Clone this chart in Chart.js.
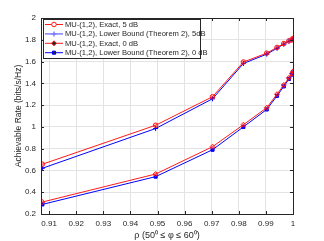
<!DOCTYPE html>
<html>
<head>
<meta charset="utf-8">
<script src="https://cdn.jsdelivr.net/npm/chart.js@4/dist/chart.umd.min.js"></script>
<style>
  html, body { margin: 0; padding: 0; background: #fff; }
  #wrap { width: 324px; height: 241px; }
</style>
</head>
<body>
<div id="wrap"><canvas id="rateChart" width="324" height="241"></canvas></div>
<script>
// rho values (x) shared by all curves
const rho = [0.9075, 0.9493, 0.9703, 0.9817, 0.9903, 0.9941, 0.9966, 0.9985, 0.9996, 1.0];

const exact5 = [0.657, 1.015, 1.277, 1.596, 1.677, 1.73, 1.765, 1.79, 1.80, 1.812];
const lower5 = [0.62, 0.985, 1.258, 1.582, 1.668, 1.722, 1.76, 1.787, 1.798, 1.808];
const exact0 = [0.31, 0.567, 0.818, 1.02, 1.176, 1.30, 1.385, 1.45, 1.49, 1.51];
const lower0 = [0.288, 0.543, 0.79, 1.0, 1.16, 1.285, 1.372, 1.44, 1.48, 1.50];

const xTicks = [0.91, 0.92, 0.93, 0.94, 0.95, 0.96, 0.97, 0.98, 0.99, 1];
const yTicks = [0.2, 0.4, 0.6, 0.8, 1, 1.2, 1.4, 1.6, 1.8, 2];

const seriesNames = [
  "MU-(1,2), Exact, 5 dB",
  "MU-(1,2), Lower Bound (Theorem 2), 5dB",
  "MU-(1,2), Exact, 0 dB",
  "MU-(1,2), Lower Bound (Theorem 2), 0 dB",
];

const FONT = "'Liberation Sans', Arial, sans-serif";
const NARROW = "'Liberation Sans Narrow', 'Liberation Sans', Arial, sans-serif";
const RED = "#ff1a1a";
const BLUE = "#0000ff";

function pts(ys) {
  return ys.map((y, i) => ({ x: rho[i], y: y }));
}

// box, inner ticks and legend, MATLAB style
const matlabBox = {
  id: "matlabBox",
  afterDraw(chart) {
    const ctx = chart.ctx;
    const a = chart.chartArea;
    const xs = chart.scales.x;
    const ys = chart.scales.y;
    ctx.save();
    ctx.strokeStyle = "#262626";
    ctx.lineWidth = 1;
    ctx.beginPath();
    xTicks.forEach((t) => {
      const px = Math.round(xs.getPixelForValue(t)) + 0.5;
      ctx.moveTo(px, a.bottom);
      ctx.lineTo(px, a.bottom - 3);
      ctx.moveTo(px, a.top);
      ctx.lineTo(px, a.top + 3);
    });
    yTicks.forEach((t) => {
      const py = Math.round(ys.getPixelForValue(t)) + 0.5;
      ctx.moveTo(a.left, py);
      ctx.lineTo(a.left + 3, py);
      ctx.moveTo(a.right, py);
      ctx.lineTo(a.right - 3, py);
    });
    ctx.stroke();
    ctx.strokeRect(Math.round(a.left) + 0.5, Math.round(a.top) + 0.5,
      Math.round(a.right - a.left), Math.round(a.bottom - a.top));

    // legend
    const lx = 43.5, ly = 19.5, lw = 157, lh = 39;
    ctx.fillStyle = "#fff";
    ctx.fillRect(lx, ly, lw, lh);
    ctx.strokeStyle = "#262626";
    ctx.strokeRect(lx, ly, lw, lh);
    ctx.font = "7.6px " + FONT;
    ctx.textBaseline = "middle";
    chart.data.datasets.forEach((ds, i) => {
      const yy = 24.5 + i * 9.4;
      ctx.strokeStyle = i === 1 ? "#8080ff" : ds.borderColor;
      ctx.lineWidth = i === 1 ? 1.5 : 1;
      ctx.beginPath();
      ctx.moveTo(45, yy);
      ctx.lineTo(63, yy);
      ctx.stroke();
      Chart.helpers.drawPoint(ctx, {
        pointStyle: ds.pointStyle,
        radius: ds.pointRadius,
        borderWidth: 1,
      }, 54, yy);
      ctx.fillStyle = "#262626";
      ctx.fillText(ds.label, 65, yy + 0.5);
    });
    ctx.restore();
  },
};

const ctx = document.getElementById("rateChart").getContext("2d");
new Chart(ctx, {
  type: "line",
  data: {
    datasets: [
      {
        label: seriesNames[0],
        data: pts(exact5),
        borderColor: RED,
        backgroundColor: "rgba(255,0,0,0.25)",
        pointStyle: "circle",
        pointRadius: 2.3,
      },
      {
        label: seriesNames[1],
        data: pts(lower5),
        borderColor: BLUE,
        backgroundColor: BLUE,
        pointStyle: "cross",
        pointRadius: 2.5,
      },
      {
        label: seriesNames[2],
        data: pts(exact0),
        borderColor: RED,
        backgroundColor: "rgba(255,0,0,0.25)",
        pointStyle: "rectRot",
        pointRadius: 2.5,
      },
      {
        label: seriesNames[3],
        data: pts(lower0),
        borderColor: BLUE,
        backgroundColor: BLUE,
        pointStyle: "rect",
        pointRadius: 2.2,
      },
    ],
  },
  options: {
    responsive: false,
    animation: false,
    layout: { padding: { top: 18, right: 31, left: 0, bottom: 0 } },
    elements: {
      line: { borderWidth: 1, tension: 0 },
      point: { borderWidth: 1 },
    },
    plugins: {
      legend: { display: false },
      tooltip: { enabled: false },
    },
    scales: {
      x: {
        type: "linear",
        min: 0.907,
        max: 1,
        afterBuildTicks: (s) => { s.ticks = xTicks.map((v) => ({ value: v })); },
        afterFit: (s) => { s.height = 27; },
        grid: { color: "#e3e3e3", drawTicks: false },
        border: { display: false },
        ticks: {
          color: "#262626",
          font: { family: NARROW, size: 8 },
          padding: 5,
          maxRotation: 0,
          callback: (v) => (v === 1 ? "1" : v.toFixed(2)),
        },
        title: {
          display: true,
          text: "ρ (50⁰ ≤ φ ≤ 60⁰)",
          color: "#262626",
          font: { family: FONT, size: 9 },
          padding: { top: 0, bottom: 0 },
        },
      },
      y: {
        min: 0.2,
        max: 2,
        afterBuildTicks: (s) => { s.ticks = yTicks.map((v) => ({ value: v })); },
        afterFit: (s) => { s.width = 41; },
        grid: { color: "#e3e3e3", drawTicks: false },
        border: { display: false },
        ticks: {
          color: "#262626",
          font: { family: NARROW, size: 8 },
          padding: 5,
          callback: (v) => String(Math.round(v * 10) / 10),
        },
        title: {
          display: true,
          text: "Achievable Rate (bits/s/Hz)",
          color: "#262626",
          font: { family: NARROW, size: 8.5 },
          padding: { top: 14, bottom: 0 },
        },
      },
    },
  },
  plugins: [matlabBox],
});
</script>
</body>
</html>
